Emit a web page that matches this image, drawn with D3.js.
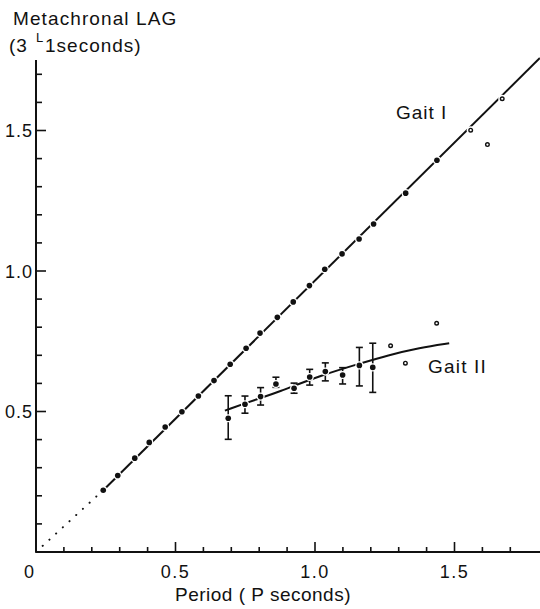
<!DOCTYPE html>
<html>
<head>
<meta charset="utf-8">
<script src="https://cdn.jsdelivr.net/npm/d3@7"></script>
<style>
  body { margin: 0; background: #fff; }
  svg text { font-family: "Liberation Sans", Arial, sans-serif; fill: #111; }
</style>
</head>
<body>
<div id="content"></div>
<script>
// Gait I - filled points on the straight line
var gaitIX = [0.241, 0.293, 0.354, 0.406, 0.463, 0.523, 0.582, 0.638, 0.696, 0.753, 0.803,
              0.865, 0.922, 0.980, 1.035, 1.097, 1.158, 1.210, 1.325, 1.437];
var gaitIY = [0.220, 0.272, 0.334, 0.390, 0.445, 0.499, 0.555, 0.610, 0.668, 0.725, 0.779,
              0.835, 0.890, 0.948, 1.006, 1.061, 1.114, 1.167, 1.277, 1.394];
// Gait I - open points
var gaitIOpenX = [1.558, 1.671, 1.618];
var gaitIOpenY = [1.501, 1.613, 1.450];
// fitted line for gait I (start / end)
var gaitILineX = [0.241, 1.806];
var gaitILineY = [0.220, 1.758];

// Gait II - means with error bars
var gaitIIX  = [0.689, 0.749, 0.805, 0.860, 0.925, 0.981, 1.037, 1.099, 1.159, 1.207];
var gaitIIY  = [0.476, 0.526, 0.553, 0.598, 0.583, 0.623, 0.642, 0.630, 0.664, 0.657];
var gaitIIHi = [0.556, 0.555, 0.585, 0.622, 0.601, 0.650, 0.673, 0.656, 0.728, 0.743];
var gaitIILo = [0.401, 0.494, 0.523, 0.586, 0.565, 0.594, 0.609, 0.598, 0.591, 0.568];
// Gait II - single points
var gaitIIOpenX = [1.271, 1.324, 1.436];
var gaitIIOpenY = [0.734, 0.672, 0.814];
// curve drawn through gait II
var gaitIICurveX = [0.677, 0.803, 0.863, 1.018, 1.173, 1.257, 1.376, 1.481];
var gaitIICurveY = [0.503, 0.548, 0.567, 0.628, 0.674, 0.699, 0.727, 0.743];

var majorTicks = [0.5, 1.0, 1.5];
var majorLabels = ['0.5', '1.0', '1.5'];
var minorTicks = [0.1, 0.2, 0.3, 0.4, 0.6, 0.7, 0.8, 0.9, 1.1, 1.2, 1.3, 1.4, 1.6, 1.7];

var width = 540, height = 609;

var x = d3.scaleLinear().domain([0, 1]).range([36, 315]);
var y = d3.scaleLinear().domain([0, 1]).range([552, 271]);

var svg = d3.select('#content').append('svg')
  .attr('width', width)
  .attr('height', height);

var ink = '#111';

// axes
svg.append('line')
  .attr('x1', x(0)).attr('x2', width)
  .attr('y1', y(0)).attr('y2', y(0))
  .attr('stroke', ink).attr('stroke-width', 2);
svg.append('line')
  .attr('x1', x(0)).attr('x2', x(0))
  .attr('y1', y(0)).attr('y2', 60)
  .attr('stroke', ink).attr('stroke-width', 2);

// ticks on x (pointing up)
svg.append('g').selectAll('line')
  .data(majorTicks.map(function(t) { return {v: t, len: 10}; })
    .concat(minorTicks.map(function(t) { return {v: t, len: 5}; })))
  .enter().append('line')
  .attr('x1', function(d) { return x(d.v); })
  .attr('x2', function(d) { return x(d.v); })
  .attr('y1', y(0))
  .attr('y2', function(d) { return y(0) - d.len; })
  .attr('stroke', ink).attr('stroke-width', 1.6);

// ticks on y (pointing right)
svg.append('g').selectAll('line')
  .data(majorTicks.map(function(t) { return {v: t, len: 10}; })
    .concat(minorTicks.map(function(t) { return {v: t, len: 6}; })))
  .enter().append('line')
  .attr('x1', x(0))
  .attr('x2', function(d) { return x(0) + d.len; })
  .attr('y1', function(d) { return y(d.v); })
  .attr('y2', function(d) { return y(d.v); })
  .attr('stroke', ink).attr('stroke-width', 1.6);

// tick labels
svg.append('g').selectAll('text')
  .data(majorTicks)
  .enter().append('text')
  .attr('x', function(d) { return x(d); })
  .attr('y', 578)
  .attr('text-anchor', 'middle')
  .style('font-size', '18px')
  .style('letter-spacing', '1.5px')
  .text(function(d, i) { return majorLabels[i]; });
svg.append('text')
  .attr('x', 29).attr('y', 578)
  .attr('text-anchor', 'middle')
  .style('font-size', '18px')
  .text('0');

svg.append('g').selectAll('text')
  .data(majorTicks)
  .enter().append('text')
  .attr('x', 33)
  .attr('y', function(d) { return y(d) + 6.5; })
  .attr('text-anchor', 'end')
  .style('font-size', '18px')
  .style('letter-spacing', '1px')
  .text(function(d, i) { return majorLabels[i]; });

// axis titles
svg.append('text')
  .attr('x', 13).attr('y', 25)
  .style('font-size', '19px')
  .style('letter-spacing', '1.1px')
  .text('Metachronal LAG');
var yt = svg.append('text')
  .attr('y', 52)
  .style('font-size', '19px')
  .style('letter-spacing', '1px');
yt.append('tspan').attr('x', 9).text('(3');
yt.append('tspan').attr('x', 36).attr('y', 41.5).style('font-size', '13px').text('L');
yt.append('tspan').attr('x', 45).attr('y', 52).text('1seconds)');

svg.append('text')
  .attr('x', 263).attr('y', 601)
  .attr('text-anchor', 'middle')
  .style('font-size', '19px')
  .style('letter-spacing', '0.5px')
  .text('Period ( P seconds)');

// dotted extrapolation to the origin
svg.append('line')
  .attr('x1', x(0)).attr('y1', y(0))
  .attr('x2', x(gaitILineX[0])).attr('y2', y(gaitILineY[0]))
  .attr('stroke', ink).attr('stroke-width', 2)
  .attr('stroke-linecap', 'round')
  .attr('stroke-dasharray', '0.1,9');

// gait I line
svg.append('line')
  .attr('x1', x(gaitILineX[0])).attr('y1', y(gaitILineY[0]))
  .attr('x2', x(gaitILineX[1])).attr('y2', y(gaitILineY[1]))
  .attr('stroke', ink).attr('stroke-width', 2);

// gait II curve
var curve = d3.line()
  .x(function(d) { return x(d[0]); })
  .y(function(d) { return y(d[1]); })
  .curve(d3.curveBasis);
svg.append('path')
  .attr('d', curve(d3.zip(gaitIICurveX, gaitIICurveY)))
  .attr('fill', 'none')
  .attr('stroke', ink).attr('stroke-width', 2);

// error bars
var bars = svg.append('g').selectAll('g')
  .data(d3.range(gaitIIX.length))
  .enter().append('g')
  .attr('stroke', ink).attr('stroke-width', 1.6);
bars.append('line')
  .attr('x1', function(i) { return x(gaitIIX[i]); })
  .attr('x2', function(i) { return x(gaitIIX[i]); })
  .attr('y1', function(i) { return y(gaitIIHi[i]); })
  .attr('y2', function(i) { return y(gaitIILo[i]); });
[gaitIIHi, gaitIILo].forEach(function(arr) {
  bars.append('line')
    .attr('x1', function(i) { return x(gaitIIX[i]) - 3.5; })
    .attr('x2', function(i) { return x(gaitIIX[i]) + 3.5; })
    .attr('y1', function(i) { return y(arr[i]); })
    .attr('y2', function(i) { return y(arr[i]); });
});

// filled points (white halo breaks the line)
function dots(xs, ys) {
  svg.append('g').selectAll('circle')
    .data(d3.zip(xs, ys))
    .enter().append('circle')
    .attr('cx', function(d) { return x(d[0]); })
    .attr('cy', function(d) { return y(d[1]); })
    .attr('r', 2.8)
    .attr('fill', ink)
    .attr('stroke', '#fff')
    .attr('stroke-width', 2.5)
    .attr('paint-order', 'stroke');
}
dots(gaitIX, gaitIY);
dots(gaitIIX, gaitIIY);

// open points
function rings(xs, ys) {
  var g = svg.append('g');
  g.selectAll('circle.halo')
    .data(d3.zip(xs, ys))
    .enter().append('circle')
    .attr('cx', function(d) { return x(d[0]); })
    .attr('cy', function(d) { return y(d[1]); })
    .attr('r', 4).attr('fill', '#fff');
  g.selectAll('circle.ring')
    .data(d3.zip(xs, ys))
    .enter().append('circle')
    .attr('cx', function(d) { return x(d[0]); })
    .attr('cy', function(d) { return y(d[1]); })
    .attr('r', 1.8)
    .attr('fill', '#fff')
    .attr('stroke', ink).attr('stroke-width', 1.4);
}
rings(gaitIOpenX, gaitIOpenY);
rings(gaitIIOpenX, gaitIIOpenY);

// series labels
svg.append('text').attr('x', 396).attr('y', 119)
  .style('font-size', '19px').style('letter-spacing', '1px').text('Gait I');
svg.append('text').attr('x', 428).attr('y', 373)
  .style('font-size', '19px').style('letter-spacing', '1.2px').text('Gait II');
</script>
</body>
</html>
